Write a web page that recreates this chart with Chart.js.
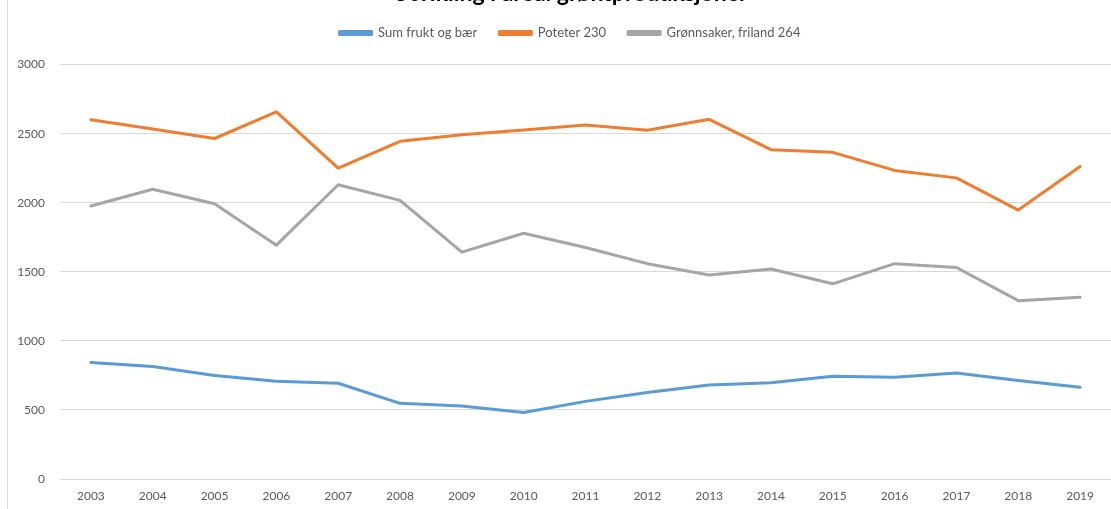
<!DOCTYPE html>
<html>
<head>
<meta charset="utf-8">
<script src="https://cdn.jsdelivr.net/npm/chart.js@4"></script>
<style>
  html, body { margin: 0; padding: 0; background: #fff; overflow: hidden; }
  #wrap { position: absolute; left: 0; top: -17px; width: 1140px; height: 526px; }
  #frame { position: absolute; left: 7px; top: 0; width: 0; height: 509px; border-left: 1px solid #d9d9d9; }
</style>
</head>
<body>
<div id="frame"></div>
<div id="wrap"><canvas id="linea"></canvas></div>
<script>
// aar og serier (lest av bildet)
const aar = ['2003','2004','2005','2006','2007','2008','2009','2010','2011','2012','2013','2014','2015','2016','2017','2018','2019'];
const frukt = [843, 814, 749, 708, 693, 548, 529, 481, 562, 626, 681, 696, 744, 737, 768, 713, 664];
const poteter = [2600, 2533, 2465, 2657, 2250, 2445, 2493, 2527, 2563, 2524, 2604, 2384, 2365, 2234, 2180, 1947, 2263];
const gronn = [1976, 2098, 1993, 1693, 2130, 2017, 1642, 1779, 1676, 1559, 1477, 1520, 1413, 1559, 1531, 1291, 1315];
const yTicks = [0, 500, 1000, 1500, 2000, 2500, 3000];

const tekst = '#595959';
const grid = '#d9d9d9';
Chart.defaults.font.family = 'Lato, "Open Sans", sans-serif';

const data = {
  labels: aar,
  datasets: [{
    data: frukt,
    label: 'Sum frukt og bær',
    borderColor: '#5b9bd5',
    backgroundColor: '#5b9bd5',
    fill: false
  },
  {
    data: poteter,
    label: 'Poteter 230',
    borderColor: '#ed7d31',
    backgroundColor: '#ed7d31',
    fill: false
  },
  {
    data: gronn,
    label: 'Grønnsaker, friland 264',
    borderColor: '#a5a5a5',
    backgroundColor: '#a5a5a5',
    fill: false
  }]
};

// litt ekstra luft under legenden
const legendeLuft = {
  id: 'legendeLuft',
  beforeLayout: function(chart) {
    const lg = chart.legend;
    if (lg && !lg._luft) {
      const fit = lg.fit;
      lg.fit = function() { fit.call(this); this.height += 15; };
      lg._luft = true;
    }
  }
};

const config = {
  type: 'line',
  data: data,
  plugins: [legendeLuft],
  options: {
    responsive: true,
    maintainAspectRatio: false,
    animation: false,
    layout: { padding: 0 },
    elements: {
      line: { borderWidth: 3, tension: 0, borderCapStyle: 'round', borderJoinStyle: 'round' },
      point: { radius: 0 }
    },
    scales: {
      x: {
        offset: true,
        grid: { display: false, drawTicks: false },
        border: { display: true, color: grid },
        ticks: { color: tekst, font: { size: 12 }, padding: 10, maxRotation: 0 },
        afterFit: function(s) { s.height = 30; }
      },
      y: {
        min: 0,
        max: 3000,
        afterBuildTicks: function(s) { s.ticks = yTicks.map(v => ({ value: v })); },
        grid: { color: grid, drawTicks: false },
        border: { display: false },
        ticks: { color: tekst, font: { size: 12 }, padding: 15, callback: v => String(v) },
        afterFit: function(s) { s.width = 60; }
      },
      // tom akse til hoyre (bildet er kuttet der)
      hoyre: {
        position: 'right',
        min: 0,
        max: 1,
        grid: { display: false, drawTicks: false },
        border: { display: false },
        ticks: { display: false },
        afterFit: function(s) { s.width = 29; }
      }
    },
    plugins: {
      title: {
        display: true,
        text: 'Utvikling i areal grøntproduksjoner',
        color: '#000',
        font: { size: 23, weight: 'bold' },
        padding: { top: -3, bottom: -3 }
      },
      legend: {
        position: 'top',
        labels: { color: tekst, font: { size: 13 }, boxWidth: 32, boxHeight: 3, padding: 22 }
      },
      tooltip: { enabled: false }
    }
  }
};

new Chart(document.getElementById('linea'), config);
</script>
</body>
</html>
